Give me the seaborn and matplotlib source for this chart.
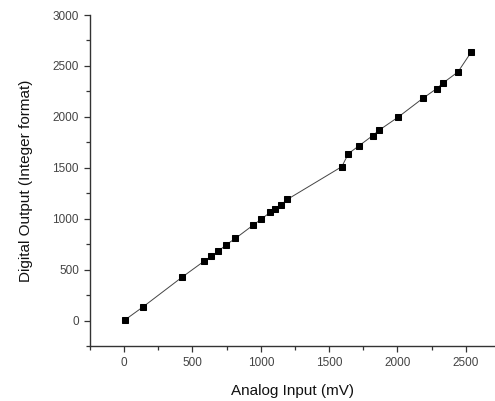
import matplotlib
matplotlib.use("Agg")
import matplotlib.pyplot as plt
import seaborn as sns
import pandas as pd
from matplotlib.ticker import MultipleLocator

# values
analog_mv = [7, 141, 424, 585, 634, 688, 746, 814, 944, 1004, 1068, 1102, 1146, 1195,
             1593, 1641, 1721, 1819, 1865, 2007, 2187, 2288, 2331, 2443, 2541]
digital_out = [7, 137, 426, 583, 629, 678, 744, 806, 937, 996, 1062, 1094, 1134, 1190,
               1511, 1639, 1718, 1816, 1868, 1999, 2183, 2278, 2330, 2441, 2638]

df = pd.DataFrame({"Analog Input (mV)": analog_mv, "Digital Output": digital_out})

sns.set_style("ticks")
plt.rcParams['font.family'] = ['Liberation Sans', 'DejaVu Sans']

fig = plt.figure(figsize=(4.95, 4.01), dpi=100)
ax = fig.add_axes([90 / 495, 55 / 401, 1 - 90 / 495, (346 - 15) / 401])

sns.lineplot(data=df, x="Analog Input (mV)", y="Digital Output", ax=ax, sort=False,
             color='#444444', linewidth=0.7, marker='s', markersize=5,
             markerfacecolor='black', markeredgecolor='black')

ax.set_xlim(-250, 2714)
ax.set_ylim(-250, 3000)
ax.xaxis.set_major_locator(MultipleLocator(500))
ax.xaxis.set_minor_locator(MultipleLocator(250))
ax.yaxis.set_major_locator(MultipleLocator(500))
ax.yaxis.set_minor_locator(MultipleLocator(250))

ax.tick_params(which='major', length=4, width=0.9, color='#333333',
               labelsize=8.5, labelcolor='#444444', pad=4)
ax.tick_params(which='minor', length=3, width=0.9, color='#333333')

for side in ['top', 'right']:
    ax.spines[side].set_visible(False)
for side in ['left', 'bottom']:
    ax.spines[side].set_color('#333333')
    ax.spines[side].set_linewidth(1.0)

ax.set_xlabel("Analog Input (mV)", fontsize=11, color='#111111', labelpad=11)
ax.set_ylabel("Digital Output (Integer format)", fontsize=11, color='#111111', labelpad=14)

fig.savefig("out.png", dpi=100)
